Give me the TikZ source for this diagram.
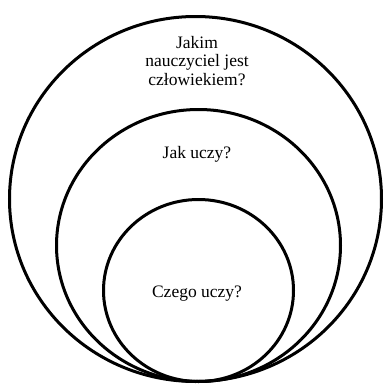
\documentclass[tikz,border=0pt]{standalone}
\usepackage{fontspec}
\setmainfont{Liberation Serif}
\begin{document}
\begin{tikzpicture}[x=1pt,y=-1pt,
  ring/.style={draw=black,line width=3pt},
  label/.style={align=center,font=\fontsize{17.5}{18.5}\selectfont,inner sep=0pt}]
\useasboundingbox (0,0) rectangle (384,386);
\fill[white] (0,0) rectangle (384,386);
\draw[ring] (195.5,199) ellipse [x radius=186, y radius=182.5];
\draw[ring] (198.5,245.5) ellipse [x radius=142, y radius=136];
\draw[ring] (198.5,290.5) ellipse [x radius=95, y radius=91];
\node[label] (outer) at (197,61) {Jakim\\nauczyciel jest\\człowiekiem?};
\node[label] (middle) at (197,154) {Jak uczy?};
\node[label] (inner) at (197,294) {Czego uczy?};
\end{tikzpicture}
\end{document}
